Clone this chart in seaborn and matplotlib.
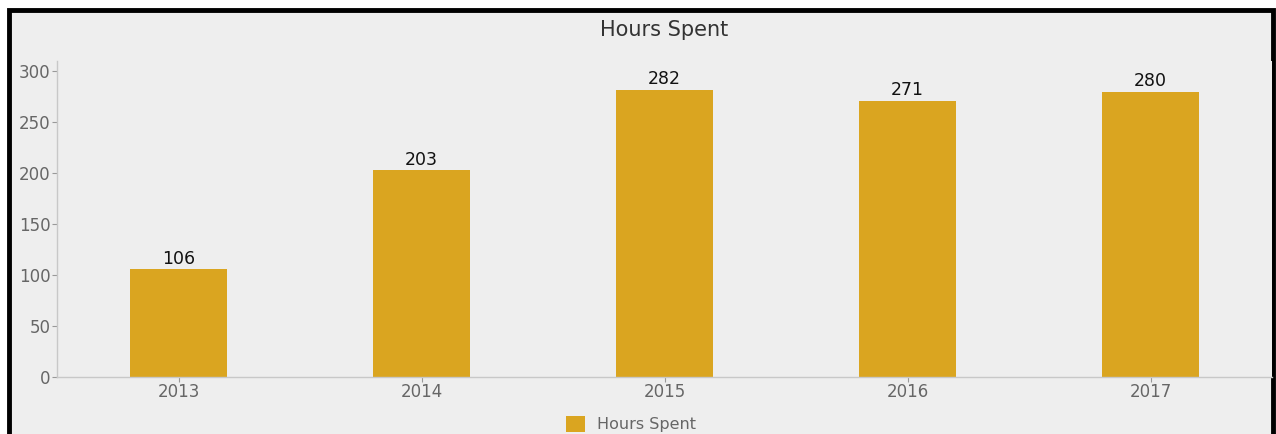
import matplotlib
matplotlib.use("Agg")
import matplotlib.pyplot as plt
import seaborn as sns
import pandas as pd
from matplotlib.patches import Rectangle

years = ["2013", "2014", "2015", "2016", "2017"]
hours = [106, 203, 282, 271, 280]
series_name = "Hours Spent"

sns.set_theme(style="white")
plt.rcParams["font.family"] = ["DejaVu Sans"]

df = pd.DataFrame({"year": years, "hours": hours})

W, H = 1276, 434
fig = plt.figure(figsize=(W / 100, H / 100), dpi=100)
fig.patch.set_facecolor("white")

# screenshot frame: black border with light gray interior
fig.patches.append(Rectangle((9 / W, -0.05), 1264 / W, 1.05 - 10 / H,
                             transform=fig.transFigure, facecolor="#eeeeee",
                             edgecolor="black", linewidth=3.5, zorder=-10))

ax = fig.add_axes([57 / W, 1 - 377 / H, (1272 - 57) / W, (377 - 61) / H])
ax.set_facecolor("#eeeeee")

sns.barplot(data=df, x="year", y="hours", color="#daa520", width=0.4,
            saturation=1, linewidth=0, ax=ax, label=series_name)

for c in ax.containers:
    ax.bar_label(c, fontsize=12.5, color="#111111", padding=1)

ax.set_xlim(-0.5, 4.5)
ax.set_ylim(0, 310)
ax.set_yticks([0, 50, 100, 150, 200, 250, 300])
ax.set_xlabel("")
ax.set_ylabel("")
ax.set_title(series_name, fontsize=15, color="#333333", pad=18)

for s in ["top", "right"]:
    ax.spines[s].set_visible(False)
for s in ["left", "bottom"]:
    ax.spines[s].set_color("#c8c8c8")
    ax.spines[s].set_linewidth(1)
ax.tick_params(axis="both", colors="#999999", labelcolor="#666666",
               labelsize=12, length=3.5, width=0.8, pad=1, left=True, bottom=True)

handles, labels = ax.get_legend_handles_labels()
if ax.get_legend() is not None:
    ax.get_legend().remove()
fig.legend(handles, labels, loc="center", bbox_to_anchor=(631 / W, 1 - 424 / H),
           frameon=False, fontsize=11.5, labelcolor="#666666", borderpad=0.1,
           handlelength=1.2, handleheight=1.2, handletextpad=0.8)

fig.savefig("out.png", dpi=100, facecolor=fig.get_facecolor())
